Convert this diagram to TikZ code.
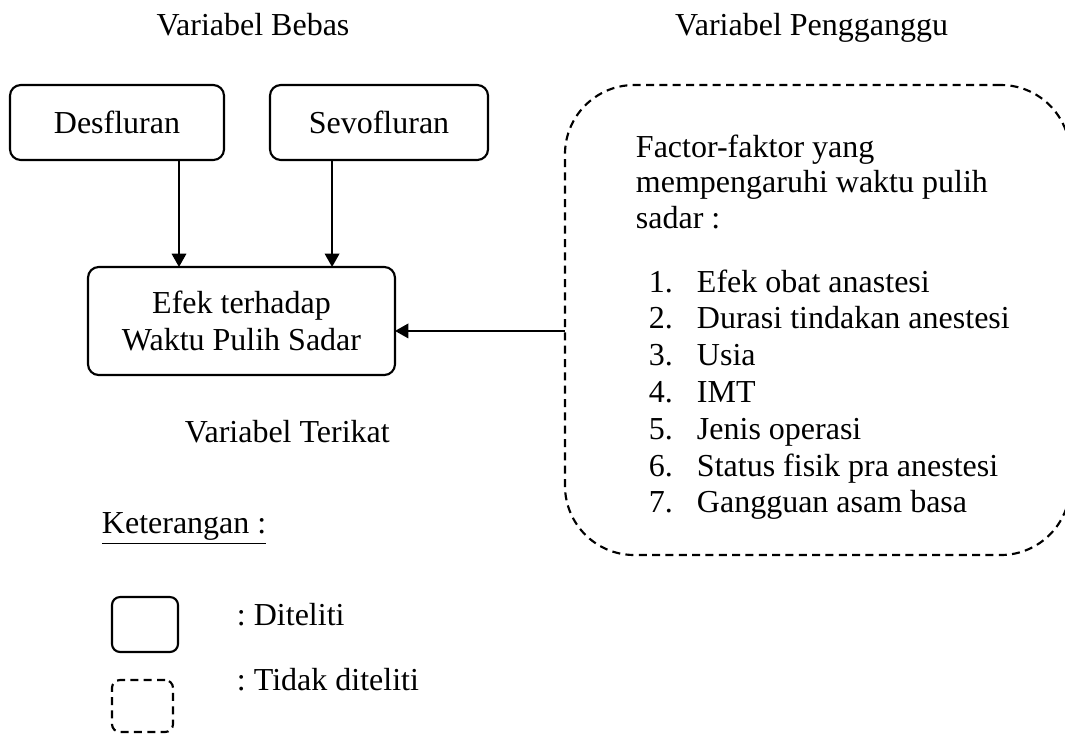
\documentclass[tikz,border=0pt]{standalone}
\usepackage{fontspec}
\setmainfont{Liberation Serif}
\usetikzlibrary{arrows.meta, positioning}
\newcommand{\diagArrow}{{Triangle[length=5pt, width=5.4pt]}}
\frenchspacing

\begin{document}
\begin{tikzpicture}[x=0.375pt, y=-0.375pt, font=\fontsize{12}{13.8}\selectfont, line width=0.8pt,
	box/.style={draw, rounded corners=4pt, align=center, inner sep=0pt, outer sep=0pt},
	dashbox/.style={draw, dash pattern=on 3pt off 2pt, inner sep=0pt, outer sep=0pt}]
	\def\G{36.8}
	\useasboundingbox (0,0) rectangle (1065,733);
	\clip (0,0) rectangle (1065,733);
	
	% titles
	\node[anchor=base]		(bebas)		at (253,35)		{Variabel Bebas};
	\node[anchor=base east]	(ganggu)	at (958,35)		{Variabel Pengganggu};
	\node[anchor=base west]	(terikat)	at (175,442)	{Variabel Terikat};
	
	% boxes
	\node[box, minimum width=80.25pt, minimum height=28.1pt]	(des)	at (117,122.5)	{Desfluran};
	\node[box, minimum width=81.75pt, minimum height=28.1pt]	(sevo)	at (379,122.5)	{Sevofluran};
	\node[box, minimum width=115.1pt, minimum height=40.5pt]	(efek)	at (241.5,321)	{Efek terhadap\\Waktu Pulih Sadar};
	\node[dashbox, rounded corners=26pt, minimum width=189.4pt, minimum height=176.25pt] (fak) at (817.5,320) {};
	
	\foreach \t [count=\i from 0] in {Factor-faktor yang, mempengaruhi waktu pulih, sadar :}
		\node[anchor=base west] (head\i) at (626,157+35.5*\i) {\t};
	\foreach \t [count=\i] in {Efek obat anastesi, Durasi tindakan anestesi, Usia, IMT, Jenis operasi, Status fisik pra anestesi, Gangguan asam basa}{
		\node[anchor=base west] (num\i)		at (639,292+\G*\i-\G)	{\i.};
		\node[anchor=base west] (item\i)	at (687,292+\G*\i-\G)	{\t};
	}
	
	% arrows
	\draw[-\diagArrow]	([xshift=23.25pt]des.south) -- ([xshift=23.25pt]des.south |- efek.north);
	\draw[-\diagArrow]	([xshift=-17.6pt]sevo.south) -- ([xshift=-17.6pt]sevo.south |- efek.north);
	\draw[-\diagArrow]	([yshift=-4.1pt]fak.west) -- ([yshift=-4.1pt]fak.west -| efek.east);
	
	% legend
	\node[anchor=base west]	(ket)	at (92,533)	{\underline{Keterangan :}};
	\node[box, rounded corners=3pt, minimum width=24.75pt, minimum height=20.6pt]	(lgA)	at (145,624.5)	{};
	\node[dashbox, rounded corners=3pt, minimum width=22.9pt, minimum height=19.5pt]	(lgB)	at (142.5,706)	{};
	\node[anchor=base west]	(lgAtext)	at (227,625)	{: Diteliti};
	\node[anchor=base west]	(lgBtext)	at (227,690)	{: Tidak diteliti};
\end{tikzpicture}
\end{document}
